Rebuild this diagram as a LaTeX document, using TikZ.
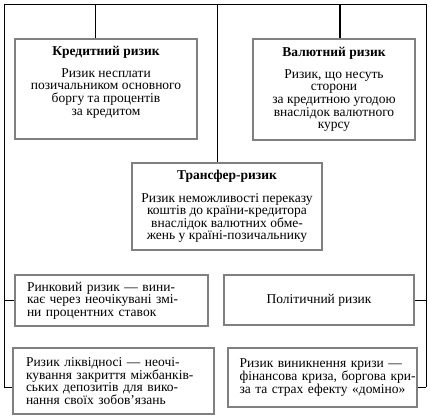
\documentclass[tikz,border=0pt]{standalone}
\usepackage{fontspec}
\setmainfont{Liberation Serif}
\newcommand{\jline}[2]{\makebox[#1][s]{#2}}

\begin{document}
\begin{tikzpicture}[x=1pt, y=-1pt,
  every node/.style={font=\fontsize{13.5}{12.6}\selectfont},
  riskbox/.style={draw=gray, line width=2.2pt, inner sep=0pt},
  link/.style={line width=0.8pt}]
  \useasboundingbox (0,0) rectangle (430,419);
  % frame
  \coordinate (tl) at (4,4);
  \coordinate (tr) at (426,4);
  \coordinate (bl) at (4,387);
  \coordinate (br) at (426,387);
  \draw[link] (bl) -- (tl) -- (tr) -- (br);
  % top row
  \node[riskbox, minimum width=182, minimum height=100, align=center] (credit) at (106,89)
    {\textbf{Кредитний ризик}\\[9pt] Ризик несплати\\ позичальником основного\\ боргу та процентів\\ за кредитом\\[4pt]};
  \node[riskbox, minimum width=162, minimum height=101, align=center] (currency) at (334,89.5)
    {\textbf{Валютний ризик}\\[9pt] Ризик, що несуть\\ сторони\\ за кредитною угодою\\ внаслідок валютного\\ курсу};
  \node[riskbox, minimum width=190, minimum height=87, align=center] (transfer) at (227,206.5)
    {\textbf{Трансфер-ризик}\\[10pt] Ризик неможливості переказу\\ коштів до країни-кредитора\\ внаслідок валютних обме-\\ жень у країні-позичальнику};
  % middle row
  \node[riskbox, minimum width=193, minimum height=51, text width=169, align=left] (market) at (111.5,300.5)
    {\jline{151pt}{Ринковий ризик — вини-}\\ \jline{151pt}{кає через неочікувані змі-}\\ ни процентних ставок};
  \node[riskbox, minimum width=190, minimum height=50, align=center] (political) at (319,300)
    {Політичний ризик};
  % bottom row
  \node[riskbox, minimum width=201, minimum height=66, text width=175, align=left] (liquid) at (113.5,381)
    {\jline{161pt}{Ризик ліквідносі — неочі-}\\ \jline{161pt}{кування закриття міжбанків-}\\ \jline{161pt}{ських депозитів для вико-}\\ нання своїх зобов’язань};
  \node[riskbox, minimum width=189, minimum height=59, text width=166, align=left] (crisis) at (322.5,377.5)
    {\jline{166pt}{Ризик виникнення кризи —}\\ \jline{166pt}{фінансова криза, боргова кри-}\\ за та страх ефекту «доміно»};
  % connectors
  \coordinate (c1) at (95,4);
  \coordinate (c2) at (217,4);
  \coordinate (c3) at (340,4);
  \draw[link] (c1) -- (c1 |- credit.north);
  \draw[link] (c2) -- (c2 |- transfer.north);
  \draw[line width=1.6pt] (c3) -- (c3 |- currency.north);
  \draw[link] (market.west) -- (market.west -| tl);
  \draw[link] (political.east) -- (political.east -| tr);
  \draw[link] (bl) -- (bl -| liquid.west);
  \draw[link] (br) -- (br -| crisis.east);
\end{tikzpicture}
\end{document}
